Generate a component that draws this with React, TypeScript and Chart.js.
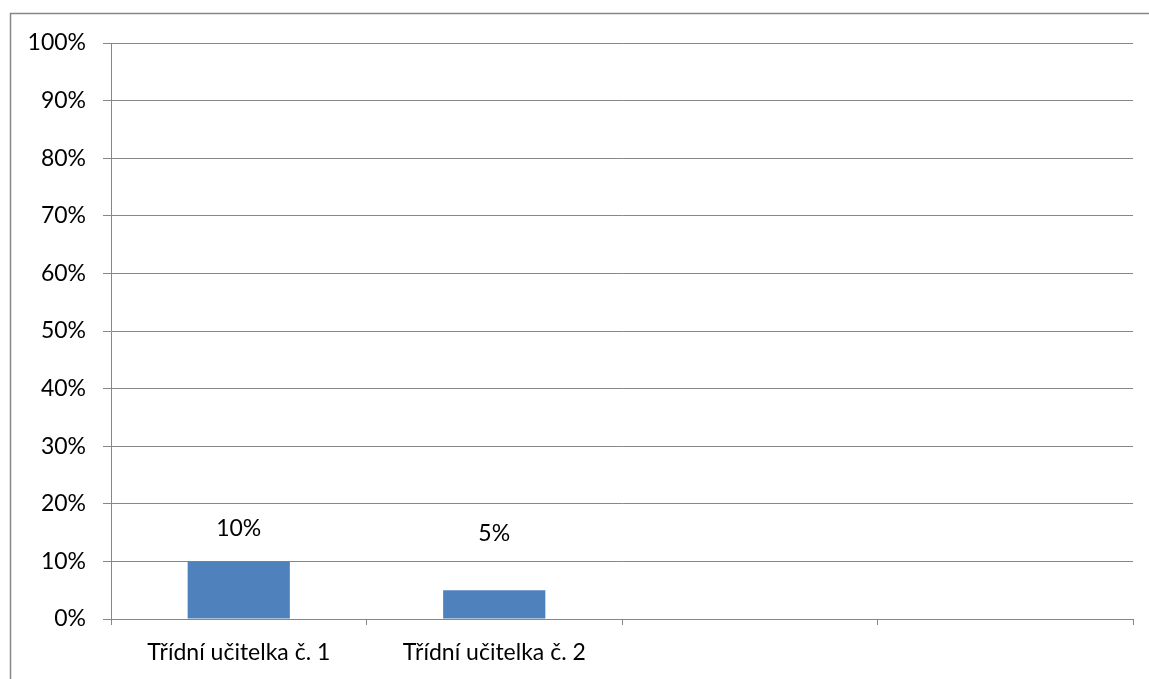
import React, { useEffect, useRef } from "react";
import { Chart, registerables } from "chart.js";

Chart.register(...registerables);

const categories = ["Třídní učitelka č. 1", "Třídní učitelka č. 2", "", ""];
const shares = [0.1, 0.05, null, null];
const valueLabels = ["10%", "5%", "", ""];
// vertical distance (px) from a bar's top to its value label centre
const labelLift = [33, 57, 0, 0];

const FONT = "Lato, 'Open Sans', sans-serif";
const GRID = "#878787";

const frame = {
  id: "frame",
  beforeDraw(chart: any) {
    const { ctx } = chart;
    ctx.save();
    ctx.fillStyle = "#ffffff";
    ctx.fillRect(0, 0, chart.width, chart.height);
    ctx.strokeStyle = GRID;
    ctx.lineWidth = 1.5;
    ctx.beginPath();
    ctx.moveTo(10.5, chart.height + 5);
    ctx.lineTo(10.5, 13.5);
    ctx.lineTo(chart.width + 5, 13.5);
    ctx.stroke();
    ctx.restore();
  },
};

const valueText = {
  id: "valueText",
  afterDatasetsDraw(chart: any) {
    const { ctx } = chart;
    const meta = chart.getDatasetMeta(0);
    ctx.save();
    ctx.fillStyle = "#000000";
    ctx.font = `23px ${FONT}`;
    ctx.textAlign = "center";
    ctx.textBaseline = "middle";
    meta.data.forEach((bar: any, i: number) => {
      if (shares[i] == null || !valueLabels[i]) return;
      ctx.fillText(valueLabels[i], bar.x, bar.y - labelLift[i]);
    });
    ctx.restore();
  },
};

export default function App() {
  const ref = useRef<HTMLCanvasElement>(null);

  useEffect(() => {
    document.body.style.margin = "0";
    const chart = new Chart(ref.current!, {
      type: "bar",
      data: {
        labels: categories,
        datasets: [
          {
            data: shares,
            backgroundColor: "#4F81BD",
            categoryPercentage: 0.8,
            barPercentage: 0.5,
          },
        ],
      },
      options: {
        animation: false,
        responsive: false,
        devicePixelRatio: 1,
        layout: { padding: { top: 43, right: 16, left: 0, bottom: 0 } },
        plugins: { legend: { display: false }, tooltip: { enabled: false } },
        scales: {
          x: {
            offset: true,
            grid: {
              offset: true,
              drawOnChartArea: false,
              drawTicks: true,
              tickLength: 6,
              color: GRID,
            },
            border: { display: false },
            ticks: {
              color: "#000000",
              font: { family: FONT, size: 23 },
              padding: 14,
              maxRotation: 0,
              autoSkip: false,
            },
            afterFit(scale: any) {
              scale.height = 60;
            },
          },
          y: {
            min: 0,
            max: 1,
            grid: { color: GRID, tickLength: 8, lineWidth: 1 },
            border: { display: true, color: GRID },
            ticks: {
              stepSize: 0.1,
              color: "#000000",
              font: { family: FONT, size: 23 },
              padding: 17,
              callback: (v: any) => `${Math.round(Number(v) * 100)}%`,
            },
            afterFit(scale: any) {
              scale.width = 111;
            },
          },
        },
      },
      plugins: [frame, valueText],
    });
    return () => chart.destroy();
  }, []);

  return (
    <div style={{ width: 1149, height: 679 }}>
      <canvas ref={ref} width={1149} height={679} style={{ display: "block" }} />
    </div>
  );
}
